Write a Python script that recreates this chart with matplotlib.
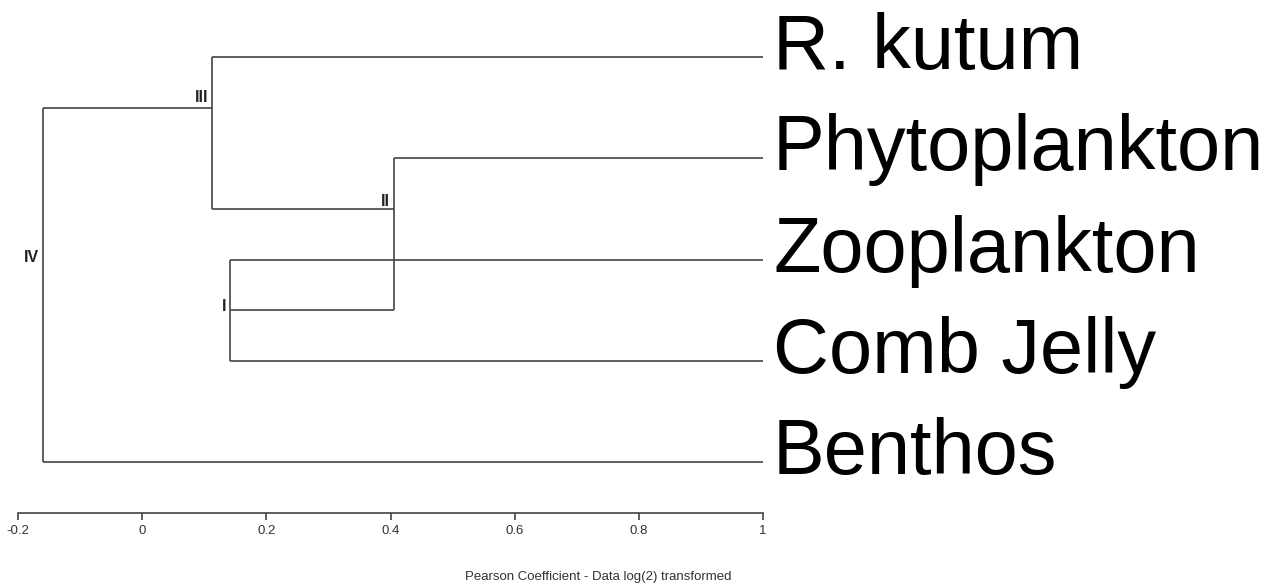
import matplotlib
matplotlib.use("Agg")
import matplotlib.pyplot as plt
from matplotlib import font_manager
import matplotlib.transforms as mtransforms

# Leaves, top to bottom
leaves = ["R. kutum", "Phytoplankton", "Zooplankton", "Comb Jelly", "Benthos"]

# Cluster nodes: name, merge level (Pearson coefficient), vertical position,
# and the two children (leaf names or node names)
node_names = ["I", "II", "III", "IV"]
node_levels = [0.142, 0.405, 0.113, -0.16]
node_pos = [2.5, 1.5, 0.5, 2.0]
node_children = [
    ("Zooplankton", "Comb Jelly"),
    ("Phytoplankton", "I"),
    ("R. kutum", "II"),
    ("III", "Benthos"),
]
label_pos = [2.46, 1.43, 0.40, 1.985]

leaf_level = 1.0
xticks = [-0.2, 0, 0.2, 0.4, 0.6, 0.8, 1]
xtick_labels = ["-0.2", "0", "0.2", "0.4", "0.6", "0.8", "1"]
xlabel = "Pearson Coefficient - Data log(2) transformed"

available = {f.name for f in font_manager.fontManager.ttflist}
narrow = "Liberation Sans Narrow" if "Liberation Sans Narrow" in available else "Liberation Sans"
sans = "Liberation Sans"

line_color = "#444444"
lw = 1.2

fig = plt.figure(figsize=(12.75, 5.86), dpi=100)
W, H = 1275, 586
left_px, right_px = 18, 763
top_px, bottom_px = 30, 513
ax = fig.add_axes([left_px / W, 1 - bottom_px / H,
                   (right_px - left_px) / W, (bottom_px - top_px) / H])

# Map every item to its (x, y) position
pos = {name: (leaf_level, i) for i, name in enumerate(leaves)}
for name, lev, y in zip(node_names, node_levels, node_pos):
    pos[name] = (lev, y)

for name, lev, y, (a, b) in zip(node_names, node_levels, node_pos, node_children):
    xa, ya = pos[a]
    xb, yb = pos[b]
    ax.plot([lev, lev], [ya, yb], color=line_color, lw=lw, solid_capstyle="butt")
    ax.plot([lev, xa], [ya, ya], color=line_color, lw=lw, solid_capstyle="butt")
    ax.plot([lev, xb], [yb, yb], color=line_color, lw=lw, solid_capstyle="butt")

# Node labels
for name, lev, ly in zip(node_names, node_levels, label_pos):
    off = mtransforms.offset_copy(ax.transData, fig=fig, x=-4, y=0, units="dots")
    ax.text(lev, ly, name, transform=off, ha="right", va="center",
            fontsize=11.5, fontweight="bold", family=[narrow, "DejaVu Sans"],
            color="#222222")

# Leaf labels
for i, name in enumerate(leaves):
    off = mtransforms.offset_copy(ax.transData, fig=fig, x=10, y=-12, units="dots")
    ax.text(leaf_level, i, name, transform=off, ha="left", va="baseline",
            fontsize=55.8, family=[sans, "DejaVu Sans"], color="black")

ax.set_xlim(-0.2, 1.0)
ax.set_ylim(4.504, -0.267)
for s in ["top", "left", "right"]:
    ax.spines[s].set_visible(False)
ax.spines["bottom"].set_color(line_color)
ax.spines["bottom"].set_linewidth(lw)
ax.set_yticks([])
ax.set_xticks(xticks)
ax.set_xticklabels(xtick_labels, family=[narrow, "DejaVu Sans"], fontsize=9.5,
                   color="#333333")
ax.tick_params(axis="x", direction="out", length=5, width=lw, color=line_color, pad=4)

fig.text(598 / W, 1 - 577 / H, xlabel, ha="center", va="center",
         fontsize=9.5, family=[narrow, "DejaVu Sans"], color="#333333")

fig.savefig("out.png", dpi=100, facecolor="white")
